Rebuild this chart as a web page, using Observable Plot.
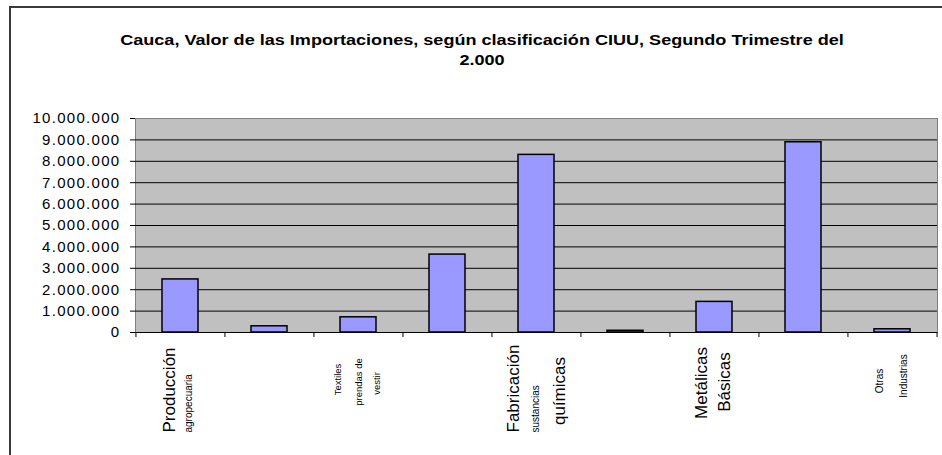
<!DOCTYPE html>
<html>
<head>
<meta charset="utf-8">
<script src="https://cdn.jsdelivr.net/npm/d3@7"></script>
<script src="https://cdn.jsdelivr.net/npm/@observablehq/plot@0.6"></script>
<style>
  html, body { margin: 0; padding: 0; background: #fff; }
  #wrap { position: relative; width: 942px; height: 455px; overflow: hidden; font-family: Arial, "Liberation Sans", sans-serif; }
  #outer { position: absolute; left: 9px; top: 6px; width: 1000px; height: 500px; border-left: 2px solid #3a3a3a; border-top: 2px solid #3a3a3a; }
  #title { position: absolute; left: 0; width: 964px; top: 30px; text-align: center; font-weight: bold; font-size: 14px; line-height: 20px; color: #000; transform: scaleX(1.29); transform-origin: 482px 0; }
  #chart { position: absolute; left: 0; top: 0; }
  #chart svg { overflow: visible; }
  g[aria-label="y-axis tick label"] text { letter-spacing: 1.3px; }
</style>
</head>
<body>
<div id="wrap">
  <div id="outer"></div>
  <div id="chart"></div>
  <div id="title">Cauca, Valor de las Importaciones, según clasificación CIUU, Segundo Trimestre del<br>2.000</div>
</div>
<script>
// ---- data ----
const categories = ["Producción agropecuaria", "C2", "Textiles prendas de vestir", "C4", "Fabricación sustancias químicas", "C6", "Metálicas Básicas", "C8", "Otras Industrias"];
const values = [2480000, 290000, 710000, 3640000, 8300000, 80000, 1430000, 8890000, 150000];
const labelLines = [["Producción", "agropecuaria"], [], ["Textiles", "prendas de", "vestir"], [], ["Fabricación", "sustancias", "químicas"], [], ["Metálicas", "Básicas"], [], ["Otras", "Industrias"]];
const yTickValues = [0, 1000000, 2000000, 3000000, 4000000, 5000000, 6000000, 7000000, 8000000, 9000000, 10000000];

// ---- layout / style (not data) ----
const W = 942, H = 455;
const mLeft = 135, mRight = 5, mTop = 118, mBottom = 123;
const step = (W - mLeft - mRight) / categories.length;
const baseY = H - mBottom;
// per-line style of the category labels: [fontSize, dx, textAnchor, screen y]
const lineStyle = {
  0: [[17, -11, "start", 432], [10, 8, "start", 432]],
  2: [[9.5, -21, "middle", 379], [9.5, 0, "middle", 381.5], [9.5, 18, "middle", 383]],
  4: [[17, -23, "start", 432], [10, -1, "start", 432], [17, 23, "middle", 390.5]],
  6: [[17, -12.5, "middle", 382.5], [17, 10, "middle", 381.5]],
  8: [[10, -12.5, "middle", 380.5], [10, 11.5, "middle", 375.5]]
};

const data = categories.map((c, i) => ({cat: c, value: values[i]}));
const locale = d3.formatLocale({decimal: ",", thousands: ".", grouping: [3], currency: ["$", ""]});
const fmt = locale.format(",");

const labelMarks = [];
labelLines.forEach((lines, i) => {
  lines.forEach((t, j) => {
    const [size, dx, anchor, y] = lineStyle[i][j];
    labelMarks.push(Plot.text([{cat: categories[i], text: t}], {
      x: "cat", text: "text", frameAnchor: "bottom", rotate: -90,
      textAnchor: anchor, lineAnchor: "middle", fontSize: size,
      dx, dy: y - baseY, fill: "black",
      fontFamily: "Arial, 'Liberation Sans', sans-serif"
    }));
  });
});

const chart = Plot.plot({
  width: W, height: H,
  marginLeft: mLeft, marginRight: mRight, marginTop: mTop, marginBottom: mBottom,
  style: {fontFamily: "Arial, 'Liberation Sans', sans-serif", background: "transparent", color: "black"},
  x: {type: "band", domain: categories, paddingInner: 0.6, paddingOuter: 0.3, axis: null, label: null},
  y: {domain: [0, 10000000], axis: null, label: null},
  marks: [
    Plot.frame({fill: "#C0C0C0", stroke: "#808080"}),
    Plot.ruleY(yTickValues.filter(v => v > 0 && v < 10000000), {stroke: "black", strokeWidth: 1}),
    Plot.barY(data, {x: "cat", y: "value", fill: "#9999FF", stroke: "black", strokeWidth: 1.5}),
    Plot.ruleY([0], {stroke: "black", strokeWidth: 1}),
    Plot.axisY({ticks: yTickValues, tickFormat: fmt, tickSize: 5, tickPadding: 10, fontSize: 15, stroke: "black", line: true, label: null}),
    Plot.axisX({tickSize: 5, tickFormat: () => "", dx: -step / 2, stroke: "black", label: null}),
    Plot.axisX([categories[categories.length - 1]], {tickSize: 5, tickFormat: () => "", dx: step / 2, stroke: "black", label: null}),
    ...labelMarks
  ]
});
document.getElementById("chart").appendChild(chart);
</script>
</body>
</html>
